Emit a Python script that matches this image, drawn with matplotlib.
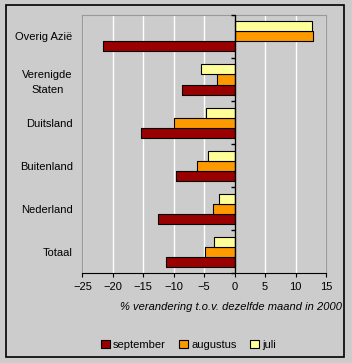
import matplotlib
matplotlib.use('Agg')
import matplotlib.pyplot as plt
from matplotlib.patches import Rectangle
import numpy as np

plt.rcParams['font.family'] = ['Liberation Sans', 'DejaVu Sans']
plt.rcParams['font.size'] = 8

# categories from bottom to top
categories = ['Totaal', 'Nederland', 'Buitenland', 'Duitsland', 'Verenigde\nStaten', 'Overig Azië']
september = [-11.3, -12.6, -9.6, -15.4, -8.7, -21.6]
augustus = [-4.9, -3.6, -6.2, -10.0, -2.95, 12.95]
juli = [-3.4, -2.5, -4.4, -4.7, -5.6, 12.7]

bg = '#cccccc'
fig = plt.figure(figsize=(3.52, 3.63), dpi=100, facecolor=bg)
ax = fig.add_axes([0.234, 0.247, 0.692, 0.712])
ax.set_facecolor(bg)

y = np.arange(len(categories))
h = 0.233
ax.barh(y - h, september, height=h, color='#990000', edgecolor='black', linewidth=0.8, label='september', zorder=3)
ax.barh(y, augustus, height=h, color='#ff9900', edgecolor='black', linewidth=0.8, label='augustus', zorder=3)
ax.barh(y + h, juli, height=h, color='#ffff99', edgecolor='black', linewidth=0.8, label='juli', zorder=3)

ax.set_xlim(-25, 15)
ax.set_ylim(-0.5, len(categories) - 0.5)
ax.set_xticks(np.arange(-25, 16, 5))
ax.grid(axis='x', color='white', linewidth=1, zorder=0)
ax.set_yticks(y)
ax.set_yticklabels(categories, ha='right', multialignment='center', linespacing=1.6)
ax.tick_params(axis='y', length=0, pad=7)
ax.tick_params(axis='x', length=3, color='black', pad=3)

for s in ['left', 'top', 'right']:
    ax.spines[s].set_color('#999999')
ax.spines['bottom'].set_color('black')

# category axis at x = 0 with ticks between groups
ax.axvline(0, color='black', linewidth=1, zorder=4)
bounds = np.arange(len(categories) + 1) - 0.5
ax.plot(np.zeros(len(bounds)), bounds, linestyle='none', marker=0, markersize=3,
        color='black', markeredgewidth=1, zorder=4, clip_on=False)

fig.text(0.972, 0.154, '% verandering t.o.v. dezelfde maand in 2000',
         ha='right', va='center', style='italic')

handles, labels = ax.get_legend_handles_labels()
fig.legend(handles, labels, loc='center', bbox_to_anchor=(0.535, 0.05), ncol=3,
           frameon=False, handlelength=0.8, handleheight=0.8, handletextpad=0.3,
           columnspacing=1.2)

fig.patches.append(Rectangle((5.5 / 352, 1 - 356.5 / 363), 338.5 / 352, 351.5 / 363,
                             transform=fig.transFigure, fill=False, edgecolor='black',
                             linewidth=1.2))

fig.savefig('out.png', dpi=100, facecolor=bg)
